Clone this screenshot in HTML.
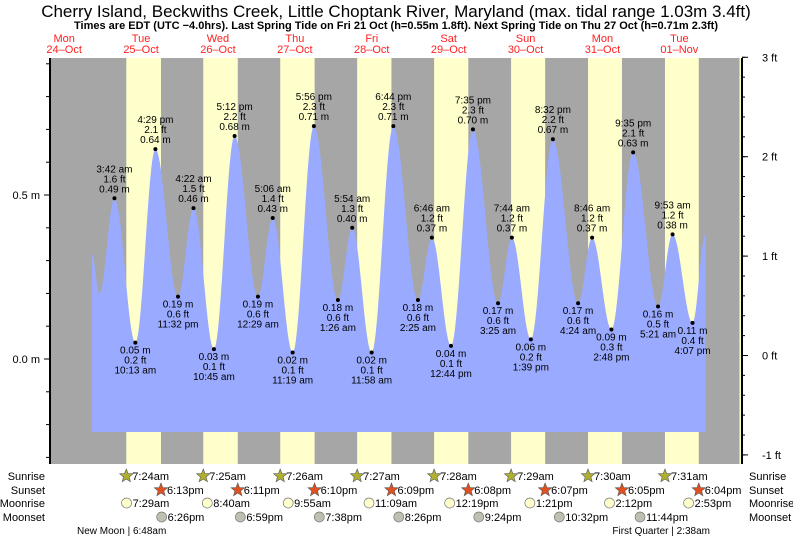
<!DOCTYPE html>
<html><head><meta charset="utf-8"><style>
html,body{margin:0;padding:0;background:#fff;}
svg{display:block;font-family:"Liberation Sans",sans-serif;}
</style></head><body>
<svg id="c" width="793" height="539" viewBox="0 0 793 539">
<text x="396" y="17" font-size="17" text-anchor="middle">Cherry Island, Beckwiths Creek, Little Choptank River, Maryland (max. tidal range 1.03m 3.4ft)</text>
<text x="396" y="29" font-size="11" font-weight="bold" text-anchor="middle">Times are EDT (UTC −4.0hrs). Last Spring Tide on Fri 21 Oct (h=0.55m 1.8ft). Next Spring Tide on Thu 27 Oct (h=0.71m 2.3ft)</text>
<rect x="50" y="58" width="691" height="406" fill="#a6a6a6"/>
<g id="bands"></g>
<g id="water"></g>
<g id="labels" font-size="10" text-anchor="middle"></g>
<g id="axes"></g>
<g id="bottom" font-size="11"></g>
</svg>
<script>
const dayNames=["Mon","Tue","Wed","Thu","Fri","Sat","Sun","Mon","Tue"];
const dayDates=["24\u2013Oct","25\u2013Oct","26\u2013Oct","27\u2013Oct","28\u2013Oct","29\u2013Oct","30\u2013Oct","31\u2013Oct","01\u2013Nov"];
const sunrise=["7:24am","7:25am","7:26am","7:27am","7:28am","7:29am","7:30am","7:31am","7:32am"];
const sunset=["6:13pm","6:11pm","6:10pm","6:09pm","6:08pm","6:07pm","6:05pm","6:04pm"];
const moonrise=["7:29am","8:40am","9:55am","11:09am","12:19pm","1:21pm","2:12pm","2:53pm"];
const moonset=["6:26pm","6:59pm","7:38pm","8:26pm","9:24pm","10:32pm","11:44pm"];
const tideDay=[0,0,1,1,1,1,2,2,2,3,3,3,3,4,4,4,4,5,5,5,5,6,6,6,6,7,7,7,7,8,8,8,8];
const tideTime=["8:40 pm","11:00 pm","3:42 am","10:13 am","4:29 pm","11:32 pm","4:22 am","10:45 am","5:12 pm","12:29 am","5:06 am","11:19 am","5:56 pm","1:26 am","5:54 am","11:58 am","6:44 pm","2:25 am","6:46 am","12:44 pm","7:35 pm","3:25 am","7:44 am","1:39 pm","8:32 pm","4:24 am","8:46 am","2:48 pm","9:35 pm","5:21 am","9:53 am","4:07 pm","8:10 pm"];
const tideH=[0.32,0.20,0.49,0.05,0.64,0.19,0.46,0.03,0.68,0.19,0.43,0.02,0.71,0.18,0.40,0.02,0.71,0.18,0.37,0.04,0.70,0.17,0.37,0.06,0.67,0.17,0.37,0.09,0.63,0.16,0.38,0.11,0.38];
const tideLabel=[0,0,1,1,1,1,1,1,1,1,1,1,1,1,1,1,1,1,1,1,1,1,1,1,1,1,1,1,1,1,1,1,0];
const ftTicks=[-1,0,1,2,3];
const mTicks=[0.0,0.5];

const NS="http://www.w3.org/2000/svg";
const PXD=76.9, X0=25.7;
function xOf(day,hours){return X0+(day+hours/24)*PXD;}
function yM(m){return 359-m*328;}
function yFt(f){return 355.5-f*99.4;}
function parseT(s){const m=s.match(/(\d+):(\d+)\s*(am|pm)/);let h=+m[1]%12;if(m[3]==="pm")h+=12;return h+ +m[2]/60;}
function mk(tag,attrs,parent,text){const e=document.createElementNS(NS,tag);for(const k in attrs)e.setAttribute(k,attrs[k]);if(text!==undefined)e.textContent=text;parent.appendChild(e);return e;}

const bands=document.getElementById('bands');
for(let i=1;i<=8;i++){
  const x1=xOf(i,parseT(sunrise[i-1]));
  const x2=xOf(i,parseT(sunset[i-1]));
  const r=mk('rect',{x:x1,y:58,width:x2-x1,height:406,fill:'#ffffcc'},bands);
  
  
}
{const r=mk('rect',{x:739.5,y:58,width:2,height:406,fill:'#ffffcc'},bands);
}
const svg=document.getElementById('c');
for(let i=0;i<9;i++){
  const cx=xOf(i,12);
  const t1=mk('text',{x:cx,y:42,'font-size':11,fill:'#ff2020','text-anchor':'middle'},svg,dayNames[i]);
  
  const t2=mk('text',{x:cx,y:53,'font-size':11,fill:'#ff2020','text-anchor':'middle'},svg,dayDates[i]);
  
}
const pts=tideH.map((h,i)=>[xOf(tideDay[i],parseT(tideTime[i])),h]);
let d='M'+pts[0][0].toFixed(1)+' 432';
for(let i=0;i<pts.length-1;i++){
  const [xa,ha]=pts[i],[xb,hb]=pts[i+1];
  for(let x=xa;x<xb;x+=1){const t=(x-xa)/(xb-xa);const h=ha+(hb-ha)*(1-Math.cos(Math.PI*t))/2;d+=' L'+x.toFixed(1)+' '+yM(h).toFixed(1);}
}
const last=pts[pts.length-1];
d+=' L'+last[0].toFixed(1)+' '+yM(last[1]).toFixed(1)+' L'+last[0].toFixed(1)+' 432 Z';
const water=mk('path',{d:d,fill:'#99aaff'},document.getElementById('water'));


const lab=document.getElementById('labels');
for(let i=0;i<pts.length;i++){
  if(!tideLabel[i])continue;
  const [x,h]=pts[i],y=yM(h);
  const isHigh=(i>0&&h>tideH[i-1]);
  const dot=mk('circle',{cx:x,cy:y,r:2,fill:'#000'},lab);
  
  const ft=(h/0.3048).toFixed(1)+' ft',m=h.toFixed(2)+' m';
  const lines=isHigh?[tideTime[i],ft,m]:[m,ft,tideTime[i]];
  const y0=isHigh?y-26:y+11;
  lines.forEach((s,k)=>{const t=mk('text',{x:x,y:y0+k*10},lab,s);
    });
}
const ax=document.getElementById('axes');
let l=mk('line',{x1:50,y1:58,x2:50,y2:464,stroke:'#000','stroke-width':2},ax);

l=mk('line',{x1:742,y1:58,x2:742,y2:464,stroke:'#000','stroke-width':2},ax);

for(let m=-0.3;m<=0.91;m+=0.1){const y=yM(m);if(y<58||y>464)continue;const t=mk('line',{x1:46,y1:y,x2:50,y2:y,stroke:'#000'},ax);}
mTicks.forEach(m=>{const y=yM(m);const t=mk('line',{x1:44,y1:y,x2:50,y2:y,stroke:'#000'},ax);
  const tx=mk('text',{x:40,y:y+4,'font-size':11,'text-anchor':'end'},ax,m.toFixed(1)+' m');});
for(let f=-1;f<=3.001;f+=0.2){const y=yFt(f);const t=mk('line',{x1:742,y1:y,x2:745,y2:y,stroke:'#000'},ax);}
ftTicks.forEach(f=>{const y=yFt(f);const t=mk('line',{x1:742,y1:y,x2:748,y2:y,stroke:'#000'},ax);
  const tx=mk('text',{x:762,y:y+4,'font-size':11},ax,f+' ft');});
const bot=document.getElementById('bottom');
const rows=[["Sunrise",480],["Sunset",494],["Moonrise",507],["Moonset",521]];
rows.forEach(([n,y])=>{
  let t=mk('text',{x:45,y:y,'text-anchor':'end'},bot,n);
  t=mk('text',{x:749,y:y},bot,n);
});
function star(cx,cy,fill){let p='';for(let k=0;k<10;k++){const r=k%2?3:7;const a=-Math.PI/2+k*Math.PI/5;p+=(cx+r*Math.cos(a)).toFixed(1)+','+(cy+r*Math.sin(a)).toFixed(1)+' ';}return mk('polygon',{points:p,fill:fill,stroke:'#555','stroke-width':0.6},bot);}
function ev(arr,row,kind){arr.forEach((s,i)=>{
  const x=xOf(i+1,parseT(s)),y=rows[row][1];
  let ic;
  if(kind==='sr')ic=star(x,y-4,'#b0b030');else if(kind==='ss')ic=star(x,y-4,'#e05020');
  else ic=mk('circle',{cx:x,cy:y-4,r:5,fill:kind==='mr'?'#ffffcc':'#c0c0b0',stroke:'#777','stroke-width':0.7},bot);
  
  const t=mk('text',{x:x+6,y:y},bot,s);
});}
ev(sunrise.slice(0,8),0,'sr');ev(sunset,1,'ss');ev(moonrise,2,'mr');ev(moonset,3,'ms');
let t=mk('text',{x:77,y:534,'font-size':10},bot,'New Moon | 6:48am');
t=mk('text',{x:710,y:534,'font-size':10,'text-anchor':'end'},bot,'First Quarter | 2:38am');
</script>
</body></html>
